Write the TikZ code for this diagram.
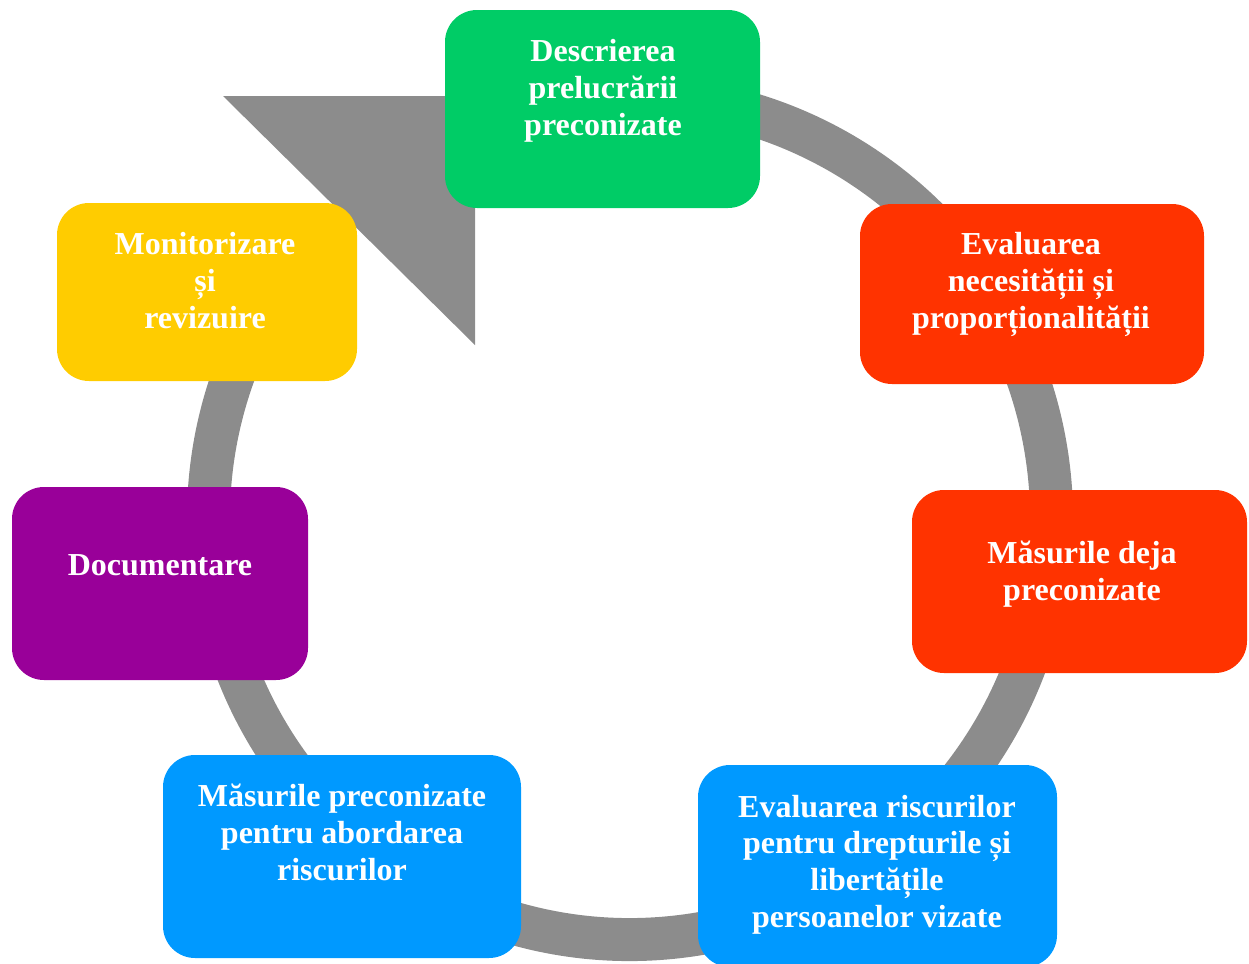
\documentclass[tikz,border=0pt]{standalone}
\usepackage{fontspec}
\setmainfont{Liberation Serif}
\usepackage{tikz}
\usetikzlibrary{positioning, calc}

\definecolor{ringgray}{RGB}{140,140,140}
\definecolor{stepgreen}{HTML}{00CC66}
\definecolor{stepred}{HTML}{FF3300}
\definecolor{stepblue}{HTML}{0099FF}
\definecolor{steppurple}{HTML}{990099}
\definecolor{stepyellow}{HTML}{FFCC00}

\begin{document}
\begin{tikzpicture}[x=0.5pt, y=-0.5pt,
	stepbox/.style={rectangle, rounded corners=16pt, draw=none, inner sep=0pt},
	steptext/.style={text=white, align=center, anchor=base, inner sep=0pt,
		font=\bfseries\fontsize{16}{18.3}\selectfont}]
				\useasboundingbox (0,0) rectangle (1249,964);
				
				% the ring and its arrow head
				\coordinate (ctr) at (630,518);
				\draw [ringgray, line width=21.5pt] ([shift={(100:210.75pt)}]ctr) arc [start angle=100, end angle=-225, radius=210.75pt];
				\fill [ringgray] (223,96) -- (475,96) -- (475,345) -- cycle;
				
				% the seven steps
				\node [stepbox, fill=stepgreen, minimum width=157.5pt, minimum height=99pt] (descr) at (602.5,109) {};
				\node [stepbox, fill=stepred, minimum width=172pt, minimum height=90pt] (necesit) at (1032,294) {};
				\node [stepbox, fill=stepred, minimum width=167.5pt, minimum height=91.5pt] (deja) at (1079.5,581.5) {};
				\node [stepbox, fill=stepblue, minimum width=179.5pt, minimum height=101pt] (riscuri) at (877.5,866) {};
				\node [stepbox, fill=stepblue, minimum width=179pt, minimum height=101.5pt] (abordare) at (342,856.5) {};
				\node [stepbox, fill=steppurple, minimum width=148pt, minimum height=96.5pt] (docum) at (160,583.5) {};
				\node [stepbox, fill=stepyellow, minimum width=150pt, minimum height=89pt] (monit) at (207,292) {};
				
				% texts (base = last line)
				\node [steptext] (descr-t) at (603,135) {Descrierea\\prelucrării\\preconizate};
				\node [steptext] (necesit-t) at (1031,328) {Evaluarea\\necesității și\\proporționalității};
				\node [steptext] (deja-t) at (1082,600) {Măsurile deja\\preconizate};
				\node [steptext] (riscuri-t) at (877,927) {Evaluarea riscurilor\\pentru drepturile și\\libertățile\\persoanelor vizate};
				\node [steptext] (abordare-t) at (342,880) {Măsurile preconizate\\pentru abordarea\\riscurilor};
				\node [steptext] (docum-t) at (160,575) {Documentare};
				\node [steptext] (monit-t) at (205,328) {Monitorizare\\și\\revizuire};
\end{tikzpicture}
\end{document}
